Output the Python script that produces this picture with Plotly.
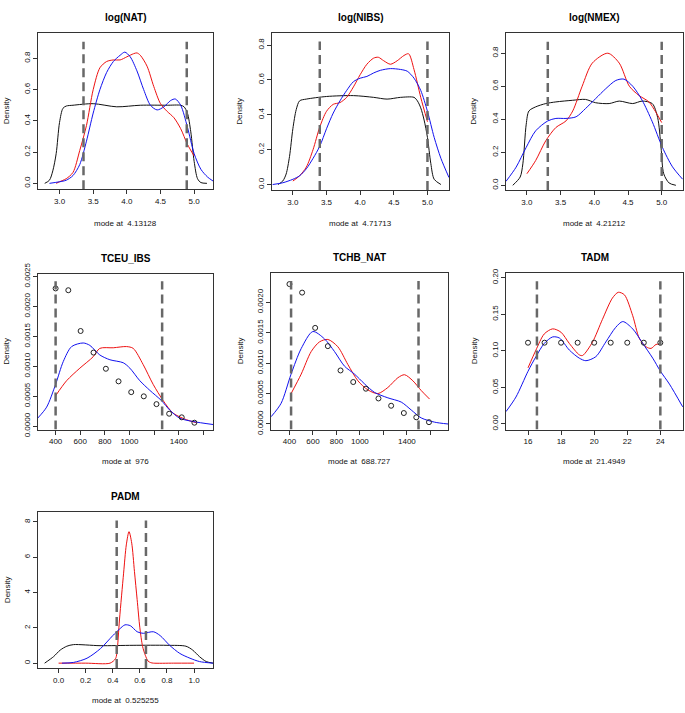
import plotly.graph_objects as go

W, H = 685, 713

##### log(NAT)
nat_black_x = [2.78, 2.85, 2.9, 2.95, 3.0, 3.05, 3.1, 3.2, 3.5, 3.85, 4.2, 4.6, 4.8, 4.85, 4.9, 4.95, 5.0, 5.05, 5.1, 5.19]
nat_black_y = [0.0, 0.02, 0.08, 0.19, 0.39, 0.48, 0.495, 0.5, 0.51, 0.49, 0.5, 0.5, 0.5, 0.49, 0.45, 0.33, 0.14, 0.03, 0.005, 0.0]
nat_red_x = [2.95, 3.0, 3.1, 3.2, 3.3, 3.4, 3.5, 3.6, 3.7, 3.8, 3.9, 4.0, 4.1, 4.15, 4.2, 4.3, 4.4, 4.5, 4.6, 4.7, 4.8, 4.9, 5.0]
nat_red_y = [0.0, 0.01, 0.03, 0.07, 0.21, 0.37, 0.6, 0.74, 0.78, 0.79, 0.79, 0.81, 0.83, 0.835, 0.82, 0.75, 0.62, 0.51, 0.46, 0.42, 0.35, 0.25, 0.175]
nat_blue_x = [2.85, 3.0, 3.1, 3.2, 3.3, 3.4, 3.5, 3.6, 3.7, 3.8, 3.9, 3.97, 4.05, 4.15, 4.25, 4.35, 4.45, 4.55, 4.65, 4.72, 4.8, 4.9, 5.0, 5.1, 5.2, 5.28]
nat_blue_y = [0.0, 0.01, 0.02, 0.05, 0.12, 0.27, 0.45, 0.6, 0.71, 0.78, 0.82, 0.84, 0.81, 0.72, 0.6, 0.5, 0.47, 0.49, 0.53, 0.54, 0.5, 0.36, 0.19, 0.09, 0.04, 0.015]
nat_cuts = [3.356, 4.89]
nat_mode = "4.13128"

##### log(NIBS)
nibs_black_x = [2.78, 2.85, 2.9, 2.95, 3.0, 3.05, 3.1, 3.2, 3.5, 3.9, 4.2, 4.4, 4.6, 4.8, 4.85, 4.9, 4.95, 5.0, 5.05, 5.1, 5.2]
nibs_black_y = [0.0, 0.02, 0.06, 0.16, 0.32, 0.43, 0.48, 0.49, 0.505, 0.51, 0.5, 0.49, 0.5, 0.5, 0.48, 0.44, 0.37, 0.27, 0.12, 0.03, 0.0]
nibs_red_x = [3.0, 3.1, 3.2, 3.3, 3.4, 3.5, 3.6, 3.7, 3.8, 3.9, 4.0, 4.1, 4.2, 4.27, 4.35, 4.45, 4.55, 4.65, 4.72, 4.8, 4.9, 5.0]
nibs_red_y = [0.02, 0.05, 0.1, 0.2, 0.33, 0.42, 0.46, 0.47, 0.5, 0.56, 0.63, 0.69, 0.725, 0.73, 0.71, 0.69, 0.71, 0.74, 0.75, 0.66, 0.5, 0.36]
nibs_blue_x = [2.7, 2.85, 3.0, 3.1, 3.2, 3.3, 3.4, 3.5, 3.6, 3.7, 3.8, 3.9, 4.0, 4.1, 4.2, 4.3, 4.45, 4.6, 4.7, 4.8, 4.9, 5.0, 5.1, 5.2, 5.32]
nibs_blue_y = [0.0, 0.01, 0.03, 0.05, 0.09, 0.15, 0.22, 0.32, 0.41, 0.48, 0.54, 0.59, 0.61, 0.62, 0.64, 0.655, 0.665, 0.66, 0.65, 0.61, 0.54, 0.42, 0.27, 0.15, 0.04]
nibs_cuts = [3.40, 5.0]
nibs_mode = "4.71713"

##### log(NMEX)
nmex_black_x = [2.79, 2.9, 2.94, 2.99, 3.03, 3.13, 3.28, 3.43, 3.68, 3.87, 4.02, 4.22, 4.37, 4.57, 4.71, 4.86, 4.94, 4.99, 5.03, 5.11, 5.21]
nmex_black_y = [0.0, 0.05, 0.13, 0.37, 0.45, 0.475, 0.495, 0.505, 0.515, 0.52, 0.5, 0.495, 0.51, 0.495, 0.51, 0.495, 0.41, 0.23, 0.07, 0.014, 0.0]
nmex_red_x = [3.0, 3.13, 3.28, 3.43, 3.58, 3.68, 3.82, 3.97, 4.2, 4.37, 4.52, 4.66, 4.81, 4.91, 5.0]
nmex_red_y = [0.07, 0.15, 0.27, 0.35, 0.39, 0.45, 0.6, 0.74, 0.8, 0.74, 0.6, 0.545, 0.505, 0.445, 0.38]
nmex_blue_x = [2.69, 2.84, 2.99, 3.13, 3.31, 3.43, 3.58, 3.73, 3.87, 4.02, 4.17, 4.32, 4.44, 4.57, 4.71, 4.86, 5.01, 5.16, 5.31]
nmex_blue_y = [0.024, 0.11, 0.23, 0.33, 0.39, 0.405, 0.405, 0.415, 0.465, 0.525, 0.585, 0.635, 0.643, 0.6, 0.515, 0.385, 0.23, 0.112, 0.037]
nmex_cuts = [3.31, 5.0]
nmex_mode = "4.21212"

##### TCEU_IBS
tceu_pts_x = [400, 503, 603, 708, 808, 911, 1014, 1116, 1219, 1322, 1424, 1527]
tceu_pts_y = [0.0023, 0.00227, 0.00159, 0.00123, 0.00096, 0.00075, 0.00057, 0.0005, 0.00037, 0.00021, 0.00015, 0.00006]
tceu_red_x = [400, 489, 597, 705, 759, 868, 976, 1030, 1111, 1192, 1273, 1354, 1462, 1543]
tceu_red_y = [0.00051, 0.00076, 0.00097, 0.00116, 0.0013, 0.00131, 0.00133, 0.0013, 0.00103, 0.0007, 0.00043, 0.00022, 0.00011, 0.00006]
tceu_blue_x = [254, 327, 400, 462, 530, 624, 678, 759, 841, 949, 1003, 1084, 1165, 1259, 1327, 1408, 1516, 1678]
tceu_blue_y = [0.000135, 0.00032, 0.0007, 0.00108, 0.00133, 0.00139, 0.00135, 0.00119, 0.00111, 0.00106, 0.00097, 0.00076, 0.0006, 0.00043, 0.00027, 0.000135, 0.00008, 0.00003]
tceu_cuts = [400, 1265]
tceu_mode = "976"

##### TCHB_NAT
tchb_pts_x = [400, 508, 619, 727, 835, 943, 1051, 1158, 1266, 1374, 1480, 1588]
tchb_pts_y = [0.0023, 0.00216, 0.00158, 0.00128, 0.00088, 0.00069, 0.00058, 0.00042, 0.0003, 0.00018, 0.00011, 0.00003]
tchb_red_x = [414, 500, 585, 656, 727, 812, 897, 983, 1068, 1153, 1238, 1323, 1380, 1451, 1522, 1593]
tchb_red_y = [0.0005, 0.00082, 0.00119, 0.00135, 0.00139, 0.00127, 0.00098, 0.00071, 0.00056, 0.0005, 0.0006, 0.00076, 0.00081, 0.00071, 0.00055, 0.00041]
tchb_blue_x = [244, 329, 414, 500, 599, 698, 784, 869, 954, 1039, 1124, 1238, 1352, 1437, 1522, 1636, 1750]
tchb_blue_y = [0.00012, 0.00034, 0.00082, 0.00124, 0.00152, 0.0014, 0.00119, 0.00095, 0.00082, 0.00066, 0.00052, 0.00043, 0.00036, 0.00023, 0.0001, 0.00003, 0.0]
tchb_cuts = [414, 1499]
tchb_mode = "688.727"

##### TADM
tadm_pts_x = [16, 17, 18, 19, 20, 21, 22, 23, 24]
tadm_pts_y = [0.1111] * 9
tadm_red_x = [16, 16.48, 16.98, 17.49, 17.99, 18.5, 19.1, 19.3, 19.9, 20.5, 21.1, 21.46, 21.83, 22.33, 22.73, 23.14, 23.44, 23.74, 24]
tadm_red_y = [0.0767, 0.101, 0.123, 0.13, 0.1255, 0.11, 0.0945, 0.0936, 0.112, 0.143, 0.172, 0.18, 0.1765, 0.148, 0.117, 0.1055, 0.1033, 0.1087, 0.109]
tadm_blue_x = [14.67, 15.27, 16, 16.48, 16.98, 17.49, 17.9, 18.5, 19.1, 19.5, 20.1, 20.7, 21.3, 21.73, 22.33, 22.94, 23.54, 24.0, 24.55, 25.35]
tadm_blue_y = [0.0169, 0.0368, 0.072, 0.092, 0.11, 0.119, 0.1175, 0.101, 0.09, 0.0865, 0.092, 0.112, 0.132, 0.14, 0.13, 0.11, 0.09, 0.0723, 0.0545, 0.0235]
tadm_cuts = [16.54, 24.0]
tadm_mode = "21.4949"

##### PADM
padm_black_x = [-0.103, -0.037, 0.012, 0.061, 0.11, 0.306, 0.55, 0.8, 0.94, 0.99, 1.04, 1.09, 1.14]
padm_black_y = [0.0, 0.37, 0.74, 0.96, 1.05, 0.99, 1.01, 1.01, 0.96, 0.74, 0.37, 0.09, 0.0]
padm_red_x = [0.0, 0.2, 0.38, 0.42, 0.43, 0.45, 0.48, 0.5, 0.52, 0.54, 0.56, 0.58, 0.6, 0.62, 0.64, 0.66, 0.68, 0.7, 0.85, 1.0]
padm_red_y = [0.0, 0.0, 0.0, 0.25, 0.55, 2.5, 5.1, 6.7, 7.45, 6.8, 5.2, 3.6, 2.0, 0.95, 0.45, 0.12, 0.03, 0.0, 0.0, 0.0]
padm_blue_x = [0.025, 0.11, 0.21, 0.31, 0.4, 0.45, 0.49, 0.53, 0.58, 0.625, 0.7, 0.75, 0.82, 0.895, 0.97, 1.04, 1.14]
padm_blue_y = [0.0, 0.04, 0.28, 0.83, 1.56, 1.93, 2.17, 2.12, 1.78, 1.69, 1.78, 1.56, 1.01, 0.55, 0.28, 0.09, 0.0]
padm_cuts = [0.429, 0.645]
padm_mode = "0.525255"

font_family = "Liberation Sans, Arial, sans-serif"
cut_color = '#686868'

# panel layout in pixels: (left, right, top, bottom), axis ranges, ticks, dashed tops
panels = [
    dict(title="log(NAT)", box=(38, 213, 23, 183), xr=[2.68, 5.28], yr=[-0.037, 0.96],
         black=(nat_black_x, nat_black_y), red=(nat_red_x, nat_red_y), blue=(nat_blue_x, nat_blue_y),
         cuts=nat_cuts, cut_top=0.907, mode=nat_mode, xtv=[3.0, 3.5, 4.0, 4.5, 5.0], xfmt=".1f",
         ytv=[0, 0.2, 0.4, 0.6, 0.8], yfmt=".1f", dens_x=6, mode_y=218),
    dict(title="log(NIBS)", box=(272, 449, 23, 184), xr=[2.69, 5.32], yr=[-0.032, 0.867],
         black=(nibs_black_x, nibs_black_y), red=(nibs_red_x, nibs_red_y), blue=(nibs_blue_x, nibs_blue_y),
         cuts=nibs_cuts, cut_top=0.82, mode=nibs_mode, xtv=[3.0, 3.5, 4.0, 4.5, 5.0], xfmt=".1f",
         ytv=[0, 0.2, 0.4, 0.6, 0.8], yfmt=".1f", dens_x=240, mode_y=218),
    dict(title="log(NMEX)", box=(506, 683, 23, 184), xr=[2.69, 5.316], yr=[-0.029, 0.92],
         black=(nmex_black_x, nmex_black_y), red=(nmex_red_x, nmex_red_y), blue=(nmex_blue_x, nmex_blue_y),
         cuts=nmex_cuts, cut_top=0.87, mode=nmex_mode, xtv=[3.0, 3.5, 4.0, 4.5, 5.0], xfmt=".1f",
         ytv=[0, 0.2, 0.4, 0.6, 0.8], yfmt=".1f", dens_x=474, mode_y=218),
    dict(title="TCEU_IBS", box=(38, 213, 270, 430), xr=[257, 1678], yr=[-0.000054, 0.002544],
         pts=(tceu_pts_x, tceu_pts_y), red=(tceu_red_x, tceu_red_y), blue=(tceu_blue_x, tceu_blue_y),
         cuts=tceu_cuts, cut_top=0.00242, mode=tceu_mode, xtv=[400, 600, 800, 1000, 1200, 1400, 1600],
         xtt=["400", "600", "800", "1000", "", "1400", ""],
         ytv=[0, 0.0005, 0.001, 0.0015, 0.002, 0.0025], yfmt=".4f", dens_x=7, mode_y=463),
    dict(title="TCHB_NAT", box=(271, 448, 269, 430), xr=[243, 1750], yr=[-0.0000912, 0.002485],
         pts=(tchb_pts_x, tchb_pts_y), red=(tchb_red_x, tchb_red_y), blue=(tchb_blue_x, tchb_blue_y),
         cuts=tchb_cuts, cut_top=0.00235, mode=tchb_mode, xtv=[400, 600, 800, 1000, 1200, 1400, 1600],
         xtt=["400", "600", "800", "1000", "", "1400", ""],
         ytv=[0, 0.0005, 0.001, 0.0015, 0.002], yfmt=".4f", dens_x=240, mode_y=463),
    dict(title="TADM", box=(506, 683, 269, 430), xr=[14.67, 25.37], yr=[-0.0076, 0.2066],
         pts=(tadm_pts_x, tadm_pts_y), red=(tadm_red_x, tadm_red_y), blue=(tadm_blue_x, tadm_blue_y),
         cuts=tadm_cuts, cut_top=0.195, mode=tadm_mode, xtv=[16, 18, 20, 22, 24], xfmt="d",
         ytv=[0, 0.05, 0.1, 0.15, 0.2], yfmt=".2f", dens_x=474, mode_y=463),
    dict(title="PADM", box=(38, 213, 515, 675), xr=[-0.152, 1.14], yr=[-0.276, 8.55],
         black=(padm_black_x, padm_black_y), red=(padm_red_x, padm_red_y), blue=(padm_blue_x, padm_blue_y),
         cuts=padm_cuts, cut_top=8.09, mode=padm_mode, xtv=[0, 0.2, 0.4, 0.6, 0.8, 1.0], xfmt=".1f",
         ytv=[0, 2, 4, 6, 8], yfmt="d", dens_x=7, mode_y=708),
]

fig = go.Figure()
annotations = []
layout = {}

for i, p in enumerate(panels):
    n = "" if i == 0 else str(i + 1)
    xa, ya = "x" + n, "y" + n
    l, r, t, b = p["box"]

    def line(xy, color, width=1.0):
        fig.add_trace(go.Scatter(x=xy[0], y=xy[1], mode="lines", xaxis=xa, yaxis=ya,
                                 line=dict(color=color, width=width, shape="spline", smoothing=0.8),
                                 showlegend=False, hoverinfo="skip"))

    if "black" in p:
        line(p["black"], "#111111")
    line(p["red"], "#ee1111")
    line(p["blue"], "#1111ee")
    if "pts" in p:
        fig.add_trace(go.Scatter(x=p["pts"][0], y=p["pts"][1], mode="markers", xaxis=xa, yaxis=ya,
                                 marker=dict(symbol="circle-open", size=5, color="#222222",
                                             line=dict(width=1)),
                                 showlegend=False, hoverinfo="skip"))
    for c in p["cuts"]:
        fig.add_trace(go.Scatter(x=[c, c], y=[p["yr"][0], p["cut_top"]], mode="lines",
                                 xaxis=xa, yaxis=ya,
                                 line=dict(color=cut_color, width=2.5, dash="9px,5px"),
                                 showlegend=False, hoverinfo="skip"))

    xaxis = dict(domain=[l / W, r / W], range=p["xr"], anchor=ya, showgrid=False, zeroline=False,
                 showline=True, mirror=True, linecolor="#333333", linewidth=1,
                 ticks="outside", ticklen=4, tickcolor="#333333", tickvals=p["xtv"],
                 tickfont=dict(size=8, color="#111111", family=font_family))
    if "xtt" in p:
        xaxis["ticktext"] = p["xtt"]
    else:
        xaxis["tickformat"] = p["xfmt"]
    yaxis = dict(domain=[1 - b / H, 1 - t / H], range=p["yr"], anchor=xa, showgrid=False,
                 zeroline=False, showline=True, mirror=True, linecolor="#333333", linewidth=1,
                 ticks="outside", ticklen=4, tickcolor="#333333", tickvals=p["ytv"],
                 tickformat=p["yfmt"], tickangle=-90,
                 tickfont=dict(size=8, color="#111111", family=font_family))
    layout["xaxis" + n] = xaxis
    layout["yaxis" + n] = yaxis

    cx = (l + r) / 2
    annotations.append(dict(text="<b>" + p["title"] + "</b>", x=cx / W, y=1 - (t - 16) / H,
                            xref="paper", yref="paper", showarrow=False, xanchor="center",
                            yanchor="middle", font=dict(size=10, color="#000000", family=font_family)))
    annotations.append(dict(text="mode at  " + p["mode"], x=cx / W, y=1 - p["mode_y"] / H,
                            xref="paper", yref="paper", showarrow=False, xanchor="center",
                            yanchor="middle", font=dict(size=8, color="#111111", family=font_family)))
    annotations.append(dict(text="Density", x=p["dens_x"] / W, y=1 - (t + b) / 2 / H,
                            xref="paper", yref="paper", showarrow=False, xanchor="center",
                            yanchor="middle", textangle=-90,
                            font=dict(size=8, color="#111111", family=font_family)))

fig.update_layout(width=W, height=H, margin=dict(l=0, r=0, t=0, b=0),
                  plot_bgcolor="white", paper_bgcolor="white",
                  annotations=annotations, **layout)

# the page body has a default 8px margin; drop it so the figure sits at the window origin
fig.write_html("out.html", config={"displayModeBar": False},
               post_script="document.body.style.margin='0px';")
